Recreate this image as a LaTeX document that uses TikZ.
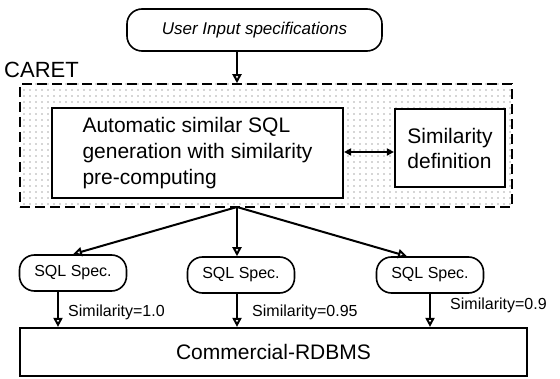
\documentclass[tikz,border=0pt]{standalone}
\usepackage{fontspec}
\setmainfont{Liberation Sans}
\usetikzlibrary{arrows.meta, positioning, patterns.meta}

\begin{document}
\begin{tikzpicture}[x=1pt, y=1pt, font=\fontsize{16}{19}\selectfont]

% Styles
        \tikzstyle{bigblock}=[rectangle, draw, fill=white, line width=2.2pt, align=left, font=\fontsize{21}{26}\selectfont]
        \tikzstyle{spec}=[rectangle, draw, line width=1.6pt, rounded corners=15pt, minimum height=36pt, minimum width=107pt, inner sep=0pt]
        \tikzstyle{region}=[rectangle, draw, line width=1.6pt, dash pattern=on 10pt off 5pt, pattern={Dots[distance=6pt, radius=0.6pt]}, pattern color=black!70]
        \tikzstyle{arrow}=[-{Triangle[open, length=9pt, width=9pt]}, line width=2pt]
        \tikzstyle{biarrow}=[{Triangle[length=7pt, width=7pt]}-{Triangle[length=7pt, width=7pt]}, line width=1.8pt]
        \tikzstyle{simlabel}=[anchor=west, inner sep=0pt]

        \useasboundingbox (0,0) rectangle (560,378);

% Nodes
% User input
        \node[spec, minimum width=255pt, minimum height=42pt, font=\fontsize{17}{20}\selectfont\itshape] (user) at (254.5,348) {User Input specifications};

% CARET region
        \node[anchor=west, inner sep=0pt, font=\fontsize{22}{26}\selectfont] (caretlabel) at (4,308) {CARET};
        \node[region, minimum width=492pt, minimum height=123pt] (caret) at (266,232.5) {};

% Generation
        \node[bigblock, minimum width=291pt, minimum height=90pt] (gen) at (197.5,225) {Automatic similar SQL\\generation with similarity\\pre-computing};

% Similarity definition
        \node[bigblock, minimum width=110pt, minimum height=78pt, font=\fontsize{21}{25}\selectfont] (simdef) at (450,230) {Similarity\\definition};

% Split point
        \coordinate (split) at (237,171);

% SQL specs
        \node[spec] (spec1) at (73,105) {SQL Spec.};
        \node[spec] (spec2) at (241,103) {SQL Spec.};
        \node[spec] (spec3) at (430,103) {SQL Spec.};

% RDBMS
        \node[rectangle, draw, line width=2.2pt, minimum width=507pt, minimum height=48pt, font=\fontsize{21}{25}\selectfont] (rdbms) at (273.5,26) {Commercial-RDBMS};

% Connections
        \draw[arrow] (user.south -| split) -- (caret.north -| split);
        \draw[biarrow] (gen.east |- 0,226) -- (simdef.west |- 0,226);

        \draw[arrow] (split) -- (spec1.north);
        \draw[arrow] (split) -- (spec2.north -| split);
        \draw[arrow] (split) -- ([xshift=-23pt]spec3.north);

        \draw[arrow] ([xshift=-15pt]spec1.south) -- ([xshift=-15pt]spec1.south |- rdbms.north);
        \draw[arrow] (spec2.south -| split) -- (rdbms.north -| split);
        \draw[arrow] (spec3.south) -- (spec3.south |- rdbms.north);

% Labels
        \node[simlabel] (sim1) at (68,66) {Similarity=1.0};
        \node[simlabel] (sim2) at (252,66) {Similarity=0.95};
        \node[simlabel] (sim3) at (450,73) {Similarity=0.9};

    \end{tikzpicture}
\end{document}
